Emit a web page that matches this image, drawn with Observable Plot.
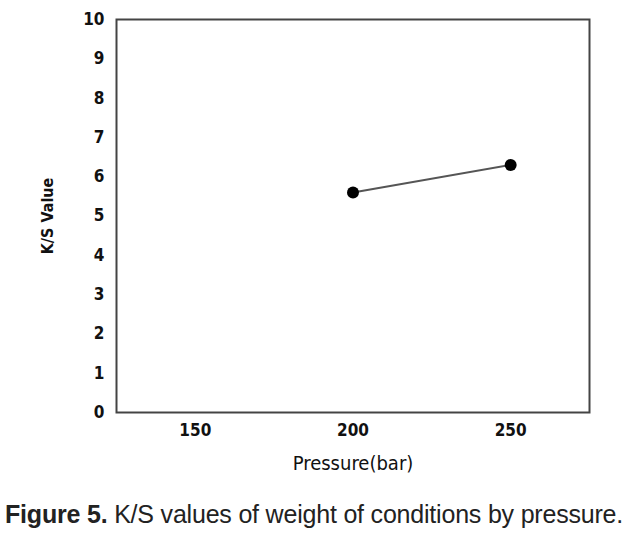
<!DOCTYPE html>
<html>
<head>
<meta charset="utf-8">
<script src="https://cdn.jsdelivr.net/npm/d3@7"></script>
<script src="https://cdn.jsdelivr.net/npm/@observablehq/plot@0.6"></script>
<style>
  html, body { margin: 0; padding: 0; background: #fff; }
  #chart svg { display: block; }
  .caption { font-family: "Liberation Sans", Arial, sans-serif; font-size: 25px; color: #222; margin: 10px 0 0 5px; white-space: nowrap; letter-spacing: -0.2px; }
  .caption b { font-weight: bold; }
</style>
</head>
<body>
<div id="chart"></div>
<div class="caption"><b>Figure 5.</b> K/S values of weight of conditions by pressure.</div>
<script>
const pressure = [200, 250];
const ksValue = [5.6, 6.3];
const xTicks = [150, 200, 250];
const yTicks = [0, 1, 2, 3, 4, 5, 6, 7, 8, 9, 10];
const xLabel = "Pressure(bar)";
const yLabel = "K/S Value";

const data = pressure.map((p, i) => ({pressure: p, ks: ksValue[i]}));
const tickFont = "'DejaVu Sans Condensed', sans-serif";

const chart = Plot.plot({
  width: 629,
  height: 490,
  marginTop: 19,
  marginBottom: 78,
  marginLeft: 116,
  marginRight: 40,
  style: {fontFamily: tickFont, fontSize: "17px", color: "#111", background: "#fff"},
  x: {domain: [125, 275], ticks: xTicks, label: null},
  y: {domain: [0, 10], ticks: yTicks, label: null},
  marks: [
    Plot.axisX({ticks: xTicks, tickSize: 0, tickPadding: 11, fontWeight: "bold", fontSize: 17, label: null}),
    Plot.axisY({ticks: yTicks, tickSize: 0, tickPadding: 12, fontWeight: "bold", fontSize: 17, label: null}),
    Plot.frame({stroke: "#444", strokeWidth: 2}),
    Plot.line(data, {x: "pressure", y: "ks", stroke: "#555", strokeWidth: 2}),
    Plot.dot(data, {x: "pressure", y: "ks", r: 6, fill: "#000", stroke: "none"}),
    Plot.text([xLabel], {frameAnchor: "bottom", dy: 57, fontSize: 20, fontFamily: "'DejaVu Sans Condensed', sans-serif", fill: "#111"}),
    Plot.text([yLabel], {frameAnchor: "left", dx: -69, rotate: -90, textAnchor: "middle", fontSize: 16, fontWeight: "bold", fontFamily: tickFont, fill: "#111"})
  ]
});
document.getElementById("chart").appendChild(chart);
</script>
</body>
</html>
